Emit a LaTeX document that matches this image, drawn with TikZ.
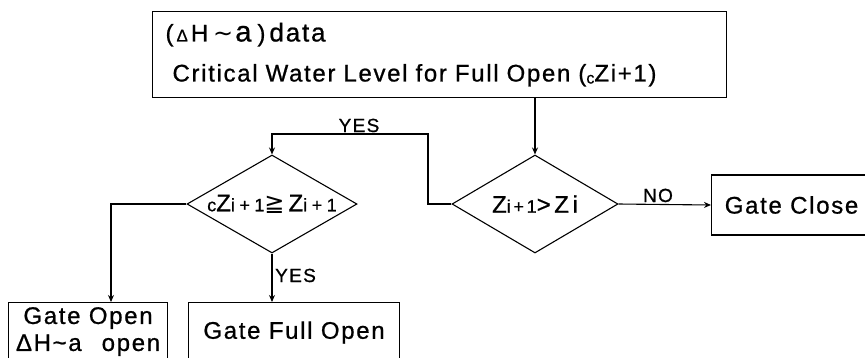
\documentclass[tikz,border=0pt]{standalone}
\usepackage{fontspec}
\setmainfont{Liberation Sans}[LetterSpace=7,FakeBold=0.8]
\newfontfamily\symfont{DejaVu Sans}
\newfontfamily\wideA{Liberation Sans}[LetterSpace=25,FakeBold=0.8]
\newfontfamily\wideB{Liberation Sans}[LetterSpace=15,FakeBold=0.8]
\usetikzlibrary{shapes.geometric,arrows.meta}
\newcommand\fsz[2]{{\fontsize{#1}{#1}\selectfont #2}}
\begin{document}
\begin{tikzpicture}[x=1pt,y=-1pt,
  every node/.style={font=\fontsize{24}{27}\selectfont},
  ln/.style={line width=1.1pt},
  box/.style={ln, draw, rectangle, inner sep=0pt, align=center, minimum height=60pt},
  dia/.style={ln, draw, diamond, inner sep=0pt, minimum width=#1, minimum height=98pt},
  arr/.style={ln, -{Stealth[length=7pt,width=6pt]}},
  lab/.style={font=\fontsize{19}{19}\selectfont, inner sep=0pt}]
\useasboundingbox (0,0) rectangle (865,357);
\clip (0,0) rectangle (865,357);

\node[box, anchor=north west, minimum width=574pt, minimum height=86pt, text width=548pt, inner xsep=13pt, align=left, font=\fontsize{24}{40}\selectfont] (top) at (152,11)
  {(\hspace{3pt}\fsz{17}{Δ}\hspace{3pt}H\hspace{5pt}{\symfont ∼}\hspace{2pt}\fsz{29}{a}\hspace{6pt})\hspace{4pt}\fsz{26}{data}\\\hspace*{7pt}Critical Water Level for Full Open (\raisebox{-2pt}{\fsz{16}{c}}Zi+1)};

\node[dia=170pt] (ldiam) at (272,204) {\makebox[0pt]{\wideA\fsz{18}{c}Z\fsz{18}{i+1}{\symfont ≧}\hspace{4pt}Z\fsz{18}{i+1}}};
\node[dia=166pt] (rdiam) at (535,204) {\makebox[0pt]{\wideB Z\fsz{18}{i+1}>Zi}};

\node[box, anchor=west, minimum width=160pt] (gclose) at (711,205) {Gate Close};
\node[box, anchor=north west, minimum width=159pt, minimum height=58pt] (gopen) at (8,302) {Gate Open\\ΔH\textasciitilde a\hspace{20pt}open};
\node[box, anchor=north west, minimum width=211pt] (gfull) at (188,302) {Gate Full Open};

\coordinate (c1) at (428,134);
\draw[arr] (rdiam.north |- top.south) -- (rdiam.north);
\draw[arr] (rdiam.west) -| (c1) -| (ldiam.north);
\draw[arr] (rdiam.east) -- (gclose.west);
\draw[arr] (ldiam.west) -| ([xshift=103pt]gopen.north west);
\draw[arr] (ldiam.south) -- (ldiam.south |- gfull.north);

\node[lab, anchor=base] (yes1) at (359,132) {YES};
\node[lab, anchor=base] (no) at (658,202) {NO};
\node[lab, anchor=base west] (yes2) at (275,282) {YES};
\end{tikzpicture}
\end{document}
